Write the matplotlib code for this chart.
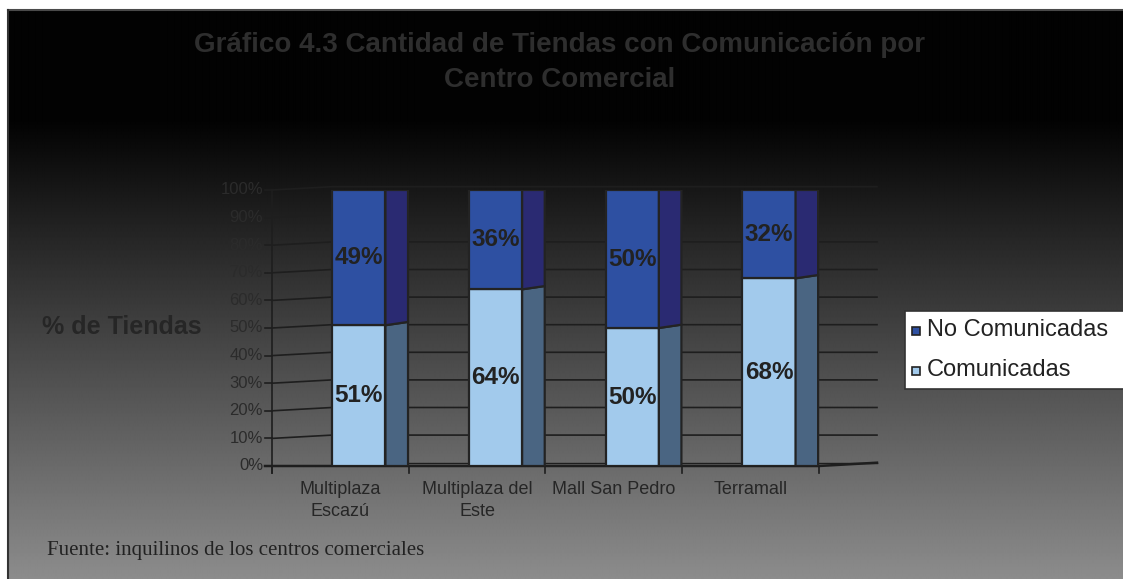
import numpy as np
import matplotlib
matplotlib.use("Agg")
import matplotlib.pyplot as plt
from matplotlib.patches import Rectangle

# ---- data ----
categories = ["Multiplaza\nEscazú", "Multiplaza del\nEste", "Mall San Pedro", "Terramall"]
comunicadas = [51, 64, 50, 68]
no_comunicadas = [49, 36, 50, 32]
series_names = ["No Comunicadas", "Comunicadas"]
yticks = [0, 10, 20, 30, 40, 50, 60, 70, 80, 90, 100]
ytick_labels = [f"{v}%" for v in yticks]
title = "Gráfico 4.3 Cantidad de Tiendas con Comunicación por\nCentro Comercial"
ylabel = "% de Tiendas"
source = "Fuente: inquilinos de los centros comerciales"

W, H = 1123, 579
fig = plt.figure(figsize=(W / 100, H / 100), dpi=100)
fig.patch.set_facecolor("white")

def fx(px):
    return px / W

def fy(py):
    return 1 - py / H

# ---- background gradient ----
bg = fig.add_axes([0, 0, 1, 1], zorder=0)
rows = np.arange(H)
vals = np.clip((rows - 120) * 0.30, 0, 255) / 255.0
vals = np.clip(vals + 0.01, 0, 1)
img = np.repeat(vals[:, None], 10, axis=1)
bg.imshow(img, cmap="gray", vmin=0, vmax=1, aspect="auto",
          extent=[0, W, H, 0], interpolation="bilinear")
bg.add_patch(Rectangle((0, 0), W, 9, color="white"))
bg.add_patch(Rectangle((0, 0), 7, H, color="white"))
bg.plot([7.5, W], [9.5, 9.5], color="#4a4a4a", lw=1.5)
bg.plot([7.5, 7.5], [9.5, H], color="#333333", lw=1.5)
bg.set_xlim(0, W)
bg.set_ylim(H, 0)
bg.axis("off")

# ---- main axes (pixel-aligned) ----
left_px, right_px, top_px, bot_px = 272, 877, 190, 466
cat_w_px = 136.7
ax = fig.add_axes([fx(left_px), fy(bot_px), fx(right_px - left_px),
                   (bot_px - top_px) / H], zorder=2)
ax.patch.set_alpha(0)
xmax = (right_px - left_px) / cat_w_px
ax.set_xlim(0, xmax)
ax.set_ylim(0, 100)
ax.axis("off")

grid_c = "#1e1e1e"
shift = 1.2  # back wall offset in %
back_x = 0.44
for v in yticks[1:]:
    ax.plot([0, back_x, xmax], [v, v + shift, v + shift], color=grid_c,
            lw=1.2, zorder=1, clip_on=False)
    ax.plot([-7 / cat_w_px, 0], [v, v], color=grid_c, lw=1.2, clip_on=False)
# floor
ax.plot([-7 / cat_w_px, 4.0, xmax], [0, 0, shift], color=grid_c, lw=1.8,
        zorder=1, clip_on=False)
ax.plot([back_x, xmax], [shift, shift], color=grid_c, lw=1.0, zorder=1,
        clip_on=False)
# left wall
ax.plot([0, 0], [-2.5, 100], color=grid_c, lw=1.2, clip_on=False, zorder=1)
# category ticks
for i in range(5):
    ax.plot([i, i], [0, -2.5], color=grid_c, lw=1.2, clip_on=False)

for v, lab in zip(yticks, ytick_labels):
    ax.text(-9 / cat_w_px, v, lab, ha="right", va="center", fontsize=12,
            color="#2b2b2b", family="Liberation Sans", clip_on=False)

# ---- bars ----
front_off, front_w, side_end = 0.44, 0.39, 0.995
x_front = np.arange(len(categories)) + front_off
c_low, c_low_side = "#a2caec", "#4a6582"
c_up, c_up_side = "#2e50a2", "#2a2a72"
edge = "#232323"

ax.bar(x_front, comunicadas, width=front_w, align="edge", color=c_low,
       edgecolor=edge, linewidth=1.6, zorder=3)
ax.bar(x_front, no_comunicadas, width=front_w, bottom=comunicadas,
       align="edge", color=c_up, edgecolor=edge, linewidth=1.6, zorder=3)
for i, (lo, up) in enumerate(zip(comunicadas, no_comunicadas)):
    x0 = i + front_off + front_w
    x1 = i + side_end
    ax.fill([x0, x1, x1, x0], [0, 0, lo + shift, lo], facecolor=c_low_side,
            edgecolor=edge, linewidth=1.6, zorder=3)
    ax.fill([x0, x1, x1, x0], [lo, lo + shift, lo + up, lo + up],
            facecolor=c_up_side, edgecolor=edge, linewidth=1.6, zorder=3)
    cx = i + front_off + front_w / 2
    ax.text(cx, lo / 2, f"{lo}%", ha="center", va="center", fontsize=17.5,
            fontweight="bold", color="#222222", family="Liberation Sans",
            zorder=4)
    ax.text(cx, lo + up / 2, f"{up}%", ha="center", va="center",
            fontsize=17.5, fontweight="bold", color="#222222",
            family="Liberation Sans", zorder=4)

# category labels
for i, lab in enumerate(categories):
    ax.text(i + 0.5, -5.5, lab, ha="center", va="top", fontsize=13,
            color="#262626", family="Liberation Sans", linespacing=1.4,
            clip_on=False)

# ---- texts ----
fig.text(fx(560), fy(62.5), title, ha="center", va="center", fontsize=20,
         fontweight="bold", color="#2e2e2e", family="Liberation Sans",
         linespacing=1.45, zorder=5)
fig.text(fx(42), fy(327), ylabel, ha="left", va="center", fontsize=18,
         fontweight="bold", color="#262626", family="Liberation Sans", zorder=5)
fig.text(fx(47), fy(551), source, ha="left", va="center", fontsize=15,
         color="#222222", family="Liberation Serif", zorder=5)

# ---- legend (manual) ----
lg = fig.add_axes([0, 0, 1, 1], zorder=6)
lg.set_xlim(0, W)
lg.set_ylim(H, 0)
lg.axis("off")
lg.patch.set_alpha(0)
lg.add_patch(Rectangle((905, 311), 240, 78, facecolor="white",
                       edgecolor="#333333", lw=1.2, clip_on=False))
leg_cols = [c_up, c_low]
leg_y = [330, 370]
for name, col, yy in zip(series_names, leg_cols, leg_y):
    lg.add_patch(Rectangle((912, yy - 3.5), 8, 8, facecolor=col,
                           edgecolor="#222222", lw=1.2))
    lg.text(927, yy + 0.5, name, ha="left", va="center", fontsize=17,
            color="#222222", family="Liberation Sans")

fig.savefig("out.png", dpi=100)
